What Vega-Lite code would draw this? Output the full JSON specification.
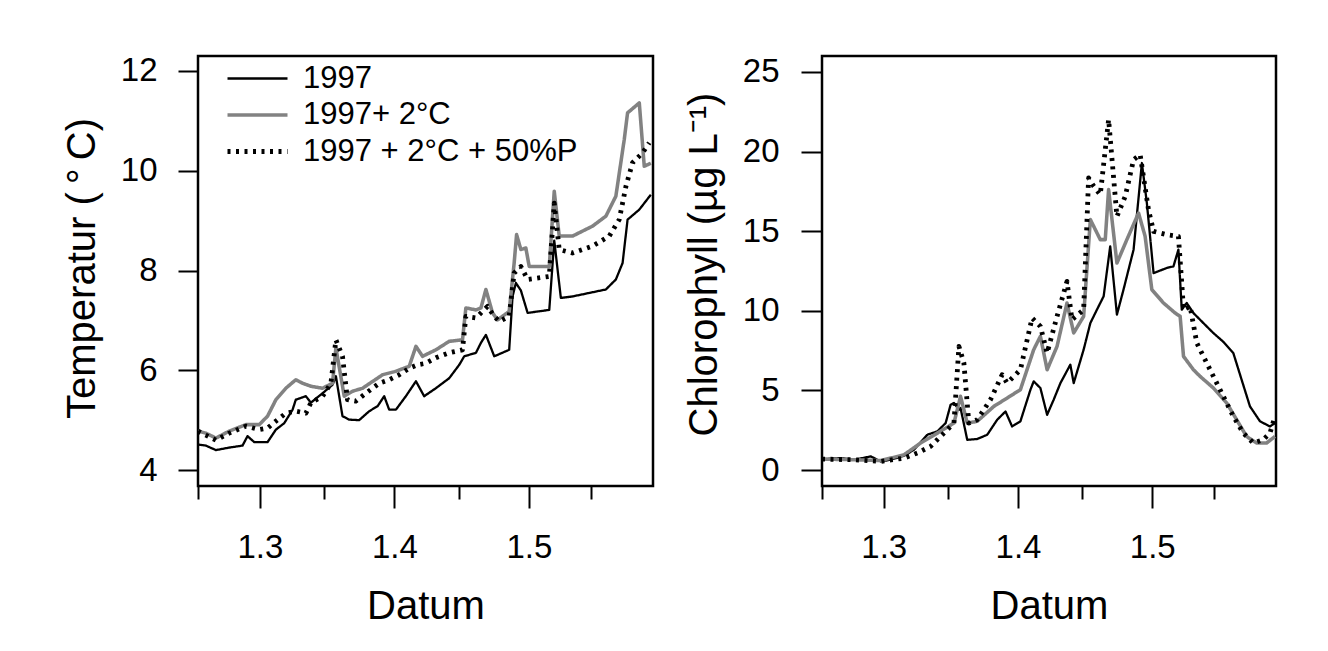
{
"$schema": "https://vega.github.io/schema/vega-lite/v6.json",
"background": "white",
"padding": {"left": 60, "top": 53, "right": 5, "bottom": 5},
"spacing": 27,
"datasets": {
"temp": [
{"x":1.2540,"v":4.51,"s":"1997"},{"x":1.2598,"v":4.49,"s":"1997"},{"x":1.2673,"v":4.40,"s":"1997"},{"x":1.2772,"v":4.45,"s":"1997"},{"x":1.2871,"v":4.49,"s":"1997"},{"x":1.2908,"v":4.68,"s":"1997"},{"x":1.2958,"v":4.56,"s":"1997"},{"x":1.3057,"v":4.56,"s":"1997"},{"x":1.3119,"v":4.81,"s":"1997"},{"x":1.3181,"v":4.94,"s":"1997"},{"x":1.3243,"v":5.21,"s":"1997"},{"x":1.3267,"v":5.41,"s":"1997"},{"x":1.3342,"v":5.48,"s":"1997"},{"x":1.3379,"v":5.35,"s":"1997"},{"x":1.3466,"v":5.54,"s":"1997"},{"x":1.3540,"v":5.71,"s":"1997"},{"x":1.3565,"v":5.88,"s":"1997"},{"x":1.3614,"v":5.08,"s":"1997"},{"x":1.3664,"v":5.01,"s":"1997"},{"x":1.3738,"v":5.00,"s":"1997"},{"x":1.3813,"v":5.18,"s":"1997"},{"x":1.3875,"v":5.28,"s":"1997"},{"x":1.3924,"v":5.48,"s":"1997"},{"x":1.3961,"v":5.21,"s":"1997"},{"x":1.4011,"v":5.21,"s":"1997"},{"x":1.4085,"v":5.48,"s":"1997"},{"x":1.4160,"v":5.78,"s":"1997"},{"x":1.4221,"v":5.48,"s":"1997"},{"x":1.4308,"v":5.64,"s":"1997"},{"x":1.4407,"v":5.84,"s":"1997"},{"x":1.4482,"v":6.11,"s":"1997"},{"x":1.4519,"v":6.28,"s":"1997"},{"x":1.4606,"v":6.35,"s":"1997"},{"x":1.4643,"v":6.55,"s":"1997"},{"x":1.4680,"v":6.71,"s":"1997"},{"x":1.4742,"v":6.28,"s":"1997"},{"x":1.4853,"v":6.41,"s":"1997"},{"x":1.4878,"v":7.48,"s":"1997"},{"x":1.4903,"v":7.75,"s":"1997"},{"x":1.4940,"v":7.60,"s":"1997"},{"x":1.4990,"v":7.15,"s":"1997"},{"x":1.5151,"v":7.21,"s":"1997"},{"x":1.5188,"v":8.60,"s":"1997"},{"x":1.5237,"v":7.45,"s":"1997"},{"x":1.5324,"v":7.48,"s":"1997"},{"x":1.5448,"v":7.55,"s":"1997"},{"x":1.5572,"v":7.62,"s":"1997"},{"x":1.5646,"v":7.82,"s":"1997"},{"x":1.5696,"v":8.15,"s":"1997"},{"x":1.5733,"v":9.02,"s":"1997"},{"x":1.5820,"v":9.22,"s":"1997"},{"x":1.5906,"v":9.52,"s":"1997"},
{"x":1.2540,"v":4.78,"s":"1997+ 2°C"},{"x":1.2598,"v":4.74,"s":"1997+ 2°C"},{"x":1.2673,"v":4.64,"s":"1997+ 2°C"},{"x":1.2772,"v":4.78,"s":"1997+ 2°C"},{"x":1.2896,"v":4.91,"s":"1997+ 2°C"},{"x":1.2995,"v":4.91,"s":"1997+ 2°C"},{"x":1.3057,"v":5.08,"s":"1997+ 2°C"},{"x":1.3119,"v":5.41,"s":"1997+ 2°C"},{"x":1.3193,"v":5.64,"s":"1997+ 2°C"},{"x":1.3267,"v":5.81,"s":"1997+ 2°C"},{"x":1.3317,"v":5.74,"s":"1997+ 2°C"},{"x":1.3379,"v":5.68,"s":"1997+ 2°C"},{"x":1.3466,"v":5.64,"s":"1997+ 2°C"},{"x":1.3540,"v":5.74,"s":"1997+ 2°C"},{"x":1.3565,"v":6.45,"s":"1997+ 2°C"},{"x":1.3627,"v":5.48,"s":"1997+ 2°C"},{"x":1.3689,"v":5.58,"s":"1997+ 2°C"},{"x":1.3763,"v":5.64,"s":"1997+ 2°C"},{"x":1.3912,"v":5.91,"s":"1997+ 2°C"},{"x":1.4011,"v":5.98,"s":"1997+ 2°C"},{"x":1.4110,"v":6.08,"s":"1997+ 2°C"},{"x":1.4160,"v":6.48,"s":"1997+ 2°C"},{"x":1.4209,"v":6.28,"s":"1997+ 2°C"},{"x":1.4308,"v":6.41,"s":"1997+ 2°C"},{"x":1.4407,"v":6.58,"s":"1997+ 2°C"},{"x":1.4506,"v":6.61,"s":"1997+ 2°C"},{"x":1.4531,"v":7.25,"s":"1997+ 2°C"},{"x":1.4606,"v":7.21,"s":"1997+ 2°C"},{"x":1.4643,"v":7.25,"s":"1997+ 2°C"},{"x":1.4680,"v":7.62,"s":"1997+ 2°C"},{"x":1.4729,"v":7.15,"s":"1997+ 2°C"},{"x":1.4767,"v":7.01,"s":"1997+ 2°C"},{"x":1.4853,"v":7.18,"s":"1997+ 2°C"},{"x":1.4890,"v":8.15,"s":"1997+ 2°C"},{"x":1.4908,"v":8.72,"s":"1997+ 2°C"},{"x":1.4940,"v":8.42,"s":"1997+ 2°C"},{"x":1.4977,"v":8.45,"s":"1997+ 2°C"},{"x":1.5002,"v":8.08,"s":"1997+ 2°C"},{"x":1.5151,"v":8.08,"s":"1997+ 2°C"},{"x":1.5188,"v":9.59,"s":"1997+ 2°C"},{"x":1.5225,"v":8.69,"s":"1997+ 2°C"},{"x":1.5324,"v":8.69,"s":"1997+ 2°C"},{"x":1.5473,"v":8.89,"s":"1997+ 2°C"},{"x":1.5572,"v":9.09,"s":"1997+ 2°C"},{"x":1.5646,"v":9.49,"s":"1997+ 2°C"},{"x":1.5708,"v":10.62,"s":"1997+ 2°C"},{"x":1.5733,"v":11.16,"s":"1997+ 2°C"},{"x":1.5820,"v":11.36,"s":"1997+ 2°C"},{"x":1.5857,"v":10.09,"s":"1997+ 2°C"},{"x":1.5906,"v":10.15,"s":"1997+ 2°C"},
{"x":1.2540,"v":4.78,"s":"1997 + 2°C + 50%P"},{"x":1.2598,"v":4.70,"s":"1997 + 2°C + 50%P"},{"x":1.2673,"v":4.60,"s":"1997 + 2°C + 50%P"},{"x":1.2772,"v":4.74,"s":"1997 + 2°C + 50%P"},{"x":1.2896,"v":4.88,"s":"1997 + 2°C + 50%P"},{"x":1.2995,"v":4.81,"s":"1997 + 2°C + 50%P"},{"x":1.3057,"v":4.84,"s":"1997 + 2°C + 50%P"},{"x":1.3119,"v":4.98,"s":"1997 + 2°C + 50%P"},{"x":1.3193,"v":5.14,"s":"1997 + 2°C + 50%P"},{"x":1.3267,"v":5.18,"s":"1997 + 2°C + 50%P"},{"x":1.3342,"v":5.14,"s":"1997 + 2°C + 50%P"},{"x":1.3379,"v":5.35,"s":"1997 + 2°C + 50%P"},{"x":1.3466,"v":5.48,"s":"1997 + 2°C + 50%P"},{"x":1.3528,"v":5.74,"s":"1997 + 2°C + 50%P"},{"x":1.3565,"v":6.61,"s":"1997 + 2°C + 50%P"},{"x":1.3614,"v":6.28,"s":"1997 + 2°C + 50%P"},{"x":1.3651,"v":5.41,"s":"1997 + 2°C + 50%P"},{"x":1.3713,"v":5.38,"s":"1997 + 2°C + 50%P"},{"x":1.3788,"v":5.54,"s":"1997 + 2°C + 50%P"},{"x":1.3887,"v":5.74,"s":"1997 + 2°C + 50%P"},{"x":1.3961,"v":5.81,"s":"1997 + 2°C + 50%P"},{"x":1.4036,"v":5.91,"s":"1997 + 2°C + 50%P"},{"x":1.4110,"v":6.04,"s":"1997 + 2°C + 50%P"},{"x":1.4172,"v":6.11,"s":"1997 + 2°C + 50%P"},{"x":1.4234,"v":6.14,"s":"1997 + 2°C + 50%P"},{"x":1.4308,"v":6.25,"s":"1997 + 2°C + 50%P"},{"x":1.4407,"v":6.35,"s":"1997 + 2°C + 50%P"},{"x":1.4506,"v":6.41,"s":"1997 + 2°C + 50%P"},{"x":1.4531,"v":7.08,"s":"1997 + 2°C + 50%P"},{"x":1.4606,"v":7.05,"s":"1997 + 2°C + 50%P"},{"x":1.4655,"v":7.18,"s":"1997 + 2°C + 50%P"},{"x":1.4692,"v":7.28,"s":"1997 + 2°C + 50%P"},{"x":1.4742,"v":7.08,"s":"1997 + 2°C + 50%P"},{"x":1.4779,"v":6.98,"s":"1997 + 2°C + 50%P"},{"x":1.4853,"v":7.08,"s":"1997 + 2°C + 50%P"},{"x":1.4890,"v":7.95,"s":"1997 + 2°C + 50%P"},{"x":1.4940,"v":8.08,"s":"1997 + 2°C + 50%P"},{"x":1.4990,"v":7.82,"s":"1997 + 2°C + 50%P"},{"x":1.5151,"v":7.88,"s":"1997 + 2°C + 50%P"},{"x":1.5188,"v":9.35,"s":"1997 + 2°C + 50%P"},{"x":1.5225,"v":8.42,"s":"1997 + 2°C + 50%P"},{"x":1.5324,"v":8.35,"s":"1997 + 2°C + 50%P"},{"x":1.5473,"v":8.49,"s":"1997 + 2°C + 50%P"},{"x":1.5597,"v":8.69,"s":"1997 + 2°C + 50%P"},{"x":1.5671,"v":9.02,"s":"1997 + 2°C + 50%P"},{"x":1.5721,"v":9.69,"s":"1997 + 2°C + 50%P"},{"x":1.5770,"v":10.16,"s":"1997 + 2°C + 50%P"},{"x":1.5845,"v":10.36,"s":"1997 + 2°C + 50%P"},{"x":1.5894,"v":10.56,"s":"1997 + 2°C + 50%P"}
],
"chl": [
{"x":1.2540,"v":0.69,"s":"1997"},{"x":1.2680,"v":0.75,"s":"1997"},{"x":1.2780,"v":0.65,"s":"1997"},{"x":1.2903,"v":0.86,"s":"1997"},{"x":1.2978,"v":0.54,"s":"1997"},{"x":1.3052,"v":0.65,"s":"1997"},{"x":1.3151,"v":0.90,"s":"1997"},{"x":1.3225,"v":1.27,"s":"1997"},{"x":1.3325,"v":2.22,"s":"1997"},{"x":1.3399,"v":2.43,"s":"1997"},{"x":1.3461,"v":2.95,"s":"1997"},{"x":1.3498,"v":4.10,"s":"1997"},{"x":1.3523,"v":4.21,"s":"1997"},{"x":1.3560,"v":3.79,"s":"1997"},{"x":1.3572,"v":3.90,"s":"1997"},{"x":1.3622,"v":1.90,"s":"1997"},{"x":1.3696,"v":1.95,"s":"1997"},{"x":1.3771,"v":2.22,"s":"1997"},{"x":1.3845,"v":3.16,"s":"1997"},{"x":1.3907,"v":3.68,"s":"1997"},{"x":1.3956,"v":2.74,"s":"1997"},{"x":1.4018,"v":3.06,"s":"1997"},{"x":1.4093,"v":5.05,"s":"1997"},{"x":1.4117,"v":5.57,"s":"1997"},{"x":1.4167,"v":5.15,"s":"1997"},{"x":1.4217,"v":3.47,"s":"1997"},{"x":1.4266,"v":4.42,"s":"1997"},{"x":1.4316,"v":5.46,"s":"1997"},{"x":1.4390,"v":6.62,"s":"1997"},{"x":1.4415,"v":5.46,"s":"1997"},{"x":1.4489,"v":7.56,"s":"1997"},{"x":1.4539,"v":9.23,"s":"1997"},{"x":1.4588,"v":10.07,"s":"1997"},{"x":1.4638,"v":10.91,"s":"1997"},{"x":1.4687,"v":14.05,"s":"1997"},{"x":1.4737,"v":9.76,"s":"1997"},{"x":1.4786,"v":11.33,"s":"1997"},{"x":1.4861,"v":13.84,"s":"1997"},{"x":1.4923,"v":19.28,"s":"1997"},{"x":1.4960,"v":16.77,"s":"1997"},{"x":1.5010,"v":12.37,"s":"1997"},{"x":1.5109,"v":12.69,"s":"1997"},{"x":1.5158,"v":12.79,"s":"1997"},{"x":1.5195,"v":13.84,"s":"1997"},{"x":1.5220,"v":10.07,"s":"1997"},{"x":1.5257,"v":10.49,"s":"1997"},{"x":1.5307,"v":9.86,"s":"1997"},{"x":1.5381,"v":9.23,"s":"1997"},{"x":1.5456,"v":8.60,"s":"1997"},{"x":1.5530,"v":8.05,"s":"1997"},{"x":1.5604,"v":7.35,"s":"1997"},{"x":1.5666,"v":5.67,"s":"1997"},{"x":1.5728,"v":4.00,"s":"1997"},{"x":1.5803,"v":3.06,"s":"1997"},{"x":1.5877,"v":2.74,"s":"1997"},{"x":1.5914,"v":2.95,"s":"1997"},
{"x":1.2540,"v":0.69,"s":"1997+ 2°C"},{"x":1.2780,"v":0.65,"s":"1997+ 2°C"},{"x":1.2978,"v":0.60,"s":"1997+ 2°C"},{"x":1.3151,"v":0.96,"s":"1997+ 2°C"},{"x":1.3275,"v":1.70,"s":"1997+ 2°C"},{"x":1.3399,"v":2.32,"s":"1997+ 2°C"},{"x":1.3523,"v":2.95,"s":"1997+ 2°C"},{"x":1.3572,"v":4.63,"s":"1997+ 2°C"},{"x":1.3622,"v":2.95,"s":"1997+ 2°C"},{"x":1.3696,"v":3.06,"s":"1997+ 2°C"},{"x":1.3820,"v":4.00,"s":"1997+ 2°C"},{"x":1.3919,"v":4.52,"s":"1997+ 2°C"},{"x":1.4018,"v":5.05,"s":"1997+ 2°C"},{"x":1.4117,"v":7.56,"s":"1997+ 2°C"},{"x":1.4167,"v":8.40,"s":"1997+ 2°C"},{"x":1.4217,"v":6.30,"s":"1997+ 2°C"},{"x":1.4291,"v":7.77,"s":"1997+ 2°C"},{"x":1.4365,"v":10.49,"s":"1997+ 2°C"},{"x":1.4415,"v":8.61,"s":"1997+ 2°C"},{"x":1.4489,"v":9.65,"s":"1997+ 2°C"},{"x":1.4539,"v":15.73,"s":"1997+ 2°C"},{"x":1.4613,"v":14.47,"s":"1997+ 2°C"},{"x":1.4650,"v":14.47,"s":"1997+ 2°C"},{"x":1.4675,"v":17.61,"s":"1997+ 2°C"},{"x":1.4737,"v":13.00,"s":"1997+ 2°C"},{"x":1.4811,"v":14.47,"s":"1997+ 2°C"},{"x":1.4898,"v":16.14,"s":"1997+ 2°C"},{"x":1.4947,"v":14.68,"s":"1997+ 2°C"},{"x":1.4997,"v":11.33,"s":"1997+ 2°C"},{"x":1.5084,"v":10.49,"s":"1997+ 2°C"},{"x":1.5171,"v":9.86,"s":"1997+ 2°C"},{"x":1.5208,"v":9.65,"s":"1997+ 2°C"},{"x":1.5233,"v":7.14,"s":"1997+ 2°C"},{"x":1.5307,"v":6.30,"s":"1997+ 2°C"},{"x":1.5357,"v":5.88,"s":"1997+ 2°C"},{"x":1.5456,"v":5.15,"s":"1997+ 2°C"},{"x":1.5555,"v":4.21,"s":"1997+ 2°C"},{"x":1.5629,"v":3.16,"s":"1997+ 2°C"},{"x":1.5703,"v":2.11,"s":"1997+ 2°C"},{"x":1.5778,"v":1.70,"s":"1997+ 2°C"},{"x":1.5852,"v":1.70,"s":"1997+ 2°C"},{"x":1.5914,"v":2.11,"s":"1997+ 2°C"},
{"x":1.2540,"v":0.69,"s":"1997 + 2°C + 50%P"},{"x":1.2780,"v":0.65,"s":"1997 + 2°C + 50%P"},{"x":1.2978,"v":0.54,"s":"1997 + 2°C + 50%P"},{"x":1.3151,"v":0.75,"s":"1997 + 2°C + 50%P"},{"x":1.3250,"v":1.07,"s":"1997 + 2°C + 50%P"},{"x":1.3349,"v":1.49,"s":"1997 + 2°C + 50%P"},{"x":1.3448,"v":2.32,"s":"1997 + 2°C + 50%P"},{"x":1.3523,"v":2.95,"s":"1997 + 2°C + 50%P"},{"x":1.3560,"v":7.77,"s":"1997 + 2°C + 50%P"},{"x":1.3597,"v":6.72,"s":"1997 + 2°C + 50%P"},{"x":1.3634,"v":2.95,"s":"1997 + 2°C + 50%P"},{"x":1.3696,"v":3.16,"s":"1997 + 2°C + 50%P"},{"x":1.3795,"v":4.42,"s":"1997 + 2°C + 50%P"},{"x":1.3882,"v":5.99,"s":"1997 + 2°C + 50%P"},{"x":1.3919,"v":5.46,"s":"1997 + 2°C + 50%P"},{"x":1.4018,"v":6.30,"s":"1997 + 2°C + 50%P"},{"x":1.4105,"v":9.55,"s":"1997 + 2°C + 50%P"},{"x":1.4167,"v":9.02,"s":"1997 + 2°C + 50%P"},{"x":1.4217,"v":7.35,"s":"1997 + 2°C + 50%P"},{"x":1.4291,"v":9.65,"s":"1997 + 2°C + 50%P"},{"x":1.4365,"v":11.85,"s":"1997 + 2°C + 50%P"},{"x":1.4402,"v":9.44,"s":"1997 + 2°C + 50%P"},{"x":1.4489,"v":10.07,"s":"1997 + 2°C + 50%P"},{"x":1.4526,"v":18.34,"s":"1997 + 2°C + 50%P"},{"x":1.4564,"v":17.82,"s":"1997 + 2°C + 50%P"},{"x":1.4613,"v":17.29,"s":"1997 + 2°C + 50%P"},{"x":1.4675,"v":22.01,"s":"1997 + 2°C + 50%P"},{"x":1.4737,"v":15.93,"s":"1997 + 2°C + 50%P"},{"x":1.4799,"v":17.19,"s":"1997 + 2°C + 50%P"},{"x":1.4861,"v":19.49,"s":"1997 + 2°C + 50%P"},{"x":1.4910,"v":19.81,"s":"1997 + 2°C + 50%P"},{"x":1.4972,"v":16.35,"s":"1997 + 2°C + 50%P"},{"x":1.5010,"v":14.99,"s":"1997 + 2°C + 50%P"},{"x":1.5109,"v":14.78,"s":"1997 + 2°C + 50%P"},{"x":1.5195,"v":14.68,"s":"1997 + 2°C + 50%P"},{"x":1.5220,"v":11.75,"s":"1997 + 2°C + 50%P"},{"x":1.5233,"v":10.07,"s":"1997 + 2°C + 50%P"},{"x":1.5282,"v":10.28,"s":"1997 + 2°C + 50%P"},{"x":1.5332,"v":7.98,"s":"1997 + 2°C + 50%P"},{"x":1.5406,"v":6.72,"s":"1997 + 2°C + 50%P"},{"x":1.5505,"v":5.05,"s":"1997 + 2°C + 50%P"},{"x":1.5604,"v":3.37,"s":"1997 + 2°C + 50%P"},{"x":1.5679,"v":2.32,"s":"1997 + 2°C + 50%P"},{"x":1.5753,"v":1.70,"s":"1997 + 2°C + 50%P"},{"x":1.5827,"v":1.91,"s":"1997 + 2°C + 50%P"},{"x":1.5877,"v":2.32,"s":"1997 + 2°C + 50%P"},{"x":1.5914,"v":3.37,"s":"1997 + 2°C + 50%P"}
]
},
"hconcat": [
{
"width": 455, "height": 430,
"data": {"name": "temp"},
"mark": {"type": "line", "strokeJoin": "round", "clip": true},
"encoding": {
"x": {"field": "x", "type": "quantitative", "scale": {"domain": [1.254, 1.5922], "nice": false, "zero": false},
 "axis": {"title": "Datum", "values": [1.254, 1.3, 1.348, 1.4, 1.448, 1.5, 1.546], "labelExpr": "(datum.value == 1.3 || datum.value == 1.4 || datum.value == 1.5) ? format(datum.value, '.1f') : ''", "tickSize": {"condition": {"test": "datum.value == 1.3 || datum.value == 1.4 || datum.value == 1.5", "value": 22}, "value": 13}, "labelPadding": 23, "labelFlush": false, "labelOverlap": false, "titleY": 132, "titleBaseline": "alphabetic"}},
"y": {"field": "v", "type": "quantitative", "scale": {"domain": [3.68, 12.3], "nice": false, "zero": false},
 "axis": {"title": "Temperatur (\u2009°\u2009C)", "values": [4, 6, 8, 10, 12], "tickSize": 20, "labelPadding": 21, "labelFlush": false, "titleX": -104, "titleY": 212, "titleAngle": -90, "titleAlign": "center", "titleBaseline": "alphabetic"}},
"color": {"field": "s", "type": "ordinal", "scale": {"domain": ["1997", "1997+ 2°C", "1997 + 2°C + 50%P"], "range": ["#000000", "#828282", "#000000"]},
 "legend": {"title": null, "orient": "none", "legendX": 44, "legendY": 7, "symbolType": "M-3,0H3", "symbolSize": 400, "labelFontSize": 31, "labelFont": "Liberation Sans", "labelColor": "black", "labelOffset": 30, "labelLimit": 600, "rowPadding": 4.5, "padding": 0}},
"strokeWidth": {"field": "s", "type": "ordinal", "scale": {"domain": ["1997", "1997+ 2°C", "1997 + 2°C + 50%P"], "range": [2.3, 4.8, 3.8]}, "legend": {"title": null}},
"strokeDash": {"field": "s", "type": "ordinal", "scale": {"domain": ["1997", "1997+ 2°C", "1997 + 2°C + 50%P"], "range": [[1, 0], [1, 0], [3, 5.5]]}, "legend": {"title": null}}
}
},
{
"width": 454, "height": 430,
"data": {"name": "chl"},
"mark": {"type": "line", "strokeJoin": "round", "clip": true},
"encoding": {
"x": {"field": "x", "type": "quantitative", "scale": {"domain": [1.254, 1.5922], "nice": false, "zero": false},
 "axis": {"title": "Datum", "values": [1.254, 1.3, 1.348, 1.4, 1.448, 1.5, 1.546], "labelExpr": "(datum.value == 1.3 || datum.value == 1.4 || datum.value == 1.5) ? format(datum.value, '.1f') : ''", "tickSize": {"condition": {"test": "datum.value == 1.3 || datum.value == 1.4 || datum.value == 1.5", "value": 22}, "value": 13}, "labelPadding": 23, "labelFlush": false, "labelOverlap": false, "titleY": 132, "titleBaseline": "alphabetic"}},
"y": {"field": "v", "type": "quantitative", "scale": {"domain": [-1.0, 26.0], "nice": false, "zero": false},
 "axis": {"title": "Chlorophyll (µg L⁻¹)", "values": [0, 5, 10, 15, 20, 25], "tickSize": 21, "labelPadding": 22, "labelFlush": false, "titleX": -106, "titleY": 208, "titleAngle": -90, "titleAlign": "center", "titleBaseline": "alphabetic"}},
"color": {"field": "s", "type": "ordinal", "scale": {"domain": ["1997", "1997+ 2°C", "1997 + 2°C + 50%P"], "range": ["#000000", "#828282", "#000000"]}},
"strokeWidth": {"field": "s", "type": "ordinal", "scale": {"domain": ["1997", "1997+ 2°C", "1997 + 2°C + 50%P"], "range": [2.3, 4.8, 3.8]}},
"strokeDash": {"field": "s", "type": "ordinal", "scale": {"domain": ["1997", "1997+ 2°C", "1997 + 2°C + 50%P"], "range": [[1, 0], [1, 0], [3, 5.5]]}}
}
}
],
"config": {
"font": "Liberation Sans",
"view": {"stroke": "black", "strokeWidth": 2.5},
"axis": {"domain": false, "grid": false, "tickColor": "black", "tickWidth": 2, "labelColor": "black", "titleColor": "black", "labelFontSize": 33, "titleFontSize": 40, "titleFontWeight": "normal", "labelFont": "Liberation Sans", "titleFont": "Liberation Sans"}
}
}
